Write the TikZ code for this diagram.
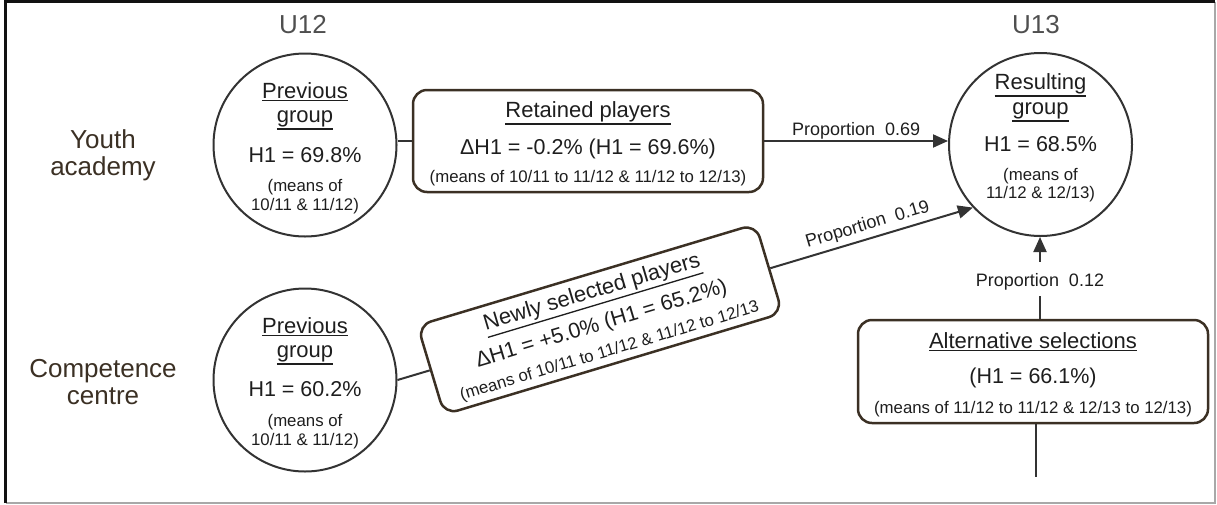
\documentclass[tikz,border=0pt]{standalone}
\usepackage{fontspec}
\setmainfont{Liberation Sans}
\usetikzlibrary{arrows.meta}

\definecolor{ink}{HTML}{1E1E1E}
\definecolor{sidebrown}{HTML}{3B3024}
\definecolor{agegrey}{HTML}{4F4F4F}
\definecolor{cardline}{HTML}{3B3024}
\definecolor{ringline}{HTML}{333333}
\definecolor{framedark}{HTML}{111111}
\definecolor{framelight}{HTML}{A8A8A8}

\newcommand\szBig{\fontsize{26}{27}\selectfont}
\newcommand\szTitle{\fontsize{22}{24}\selectfont}
\newcommand\szValue{\fontsize{21.5}{24}\selectfont}
\newcommand\szNote{\fontsize{16.8}{19}\selectfont}
\newcommand\szNoteWide{\fontsize{16.8}{27}\selectfont}
\newcommand\szProp{\fontsize{18}{20}\selectfont}
% underline drawn as a rule just below the text's depth
\newcommand\undl[1]{\leavevmode\setbox0=\hbox{#1}\rlap{\vrule width\wd0 height\dimexpr-\dp0-1.9pt\relax depth\dimexpr\dp0+3.2pt\relax}\box0}

\begin{document}
\begin{tikzpicture}[x=1pt,y=-1pt,
  side/.style={anchor=base, font=\szBig, text=sidebrown, inner sep=0pt},
  age/.style={anchor=base, font=\szBig, text=agegrey, inner sep=0pt},
  grp/.style={circle, draw=ringline, line width=2pt, minimum size=183pt, inner sep=0pt},
  card/.style={draw=cardline, line width=2.5pt, rounded corners=14pt, fill=white, inner sep=0pt},
  ttl/.style={anchor=base, font=\szTitle, text=ink, inner sep=0pt},
  val/.style={anchor=base, font=\szValue, text=ink, inner sep=0pt},
  note/.style={anchor=base, font=\szNote, text=ink, inner sep=0pt},
  prop/.style={font=\szProp, text=ink, inner sep=1pt},
  link/.style={draw=ringline, line width=2pt},
  arr/.style={link, -{Triangle[length=15pt,width=13pt]}}]

\useasboundingbox (0,0) rectangle (1217,504);

% frame
\draw[framelight, line width=2pt] (1214.5,1.5) -- (1214.5,502.5) -- (5.5,502.5);
\draw[framedark, line width=2.2pt] (5.5,503) -- (5.5,1.5) -- (1214.5,1.5);

% row and column headings
\node[side] (ya1) at (103,148) {Youth};
\node[side] (ya2) at (103,175) {academy};
\node[side] (cc1) at (103,377) {Competence};
\node[side] (cc2) at (103,404) {centre};
\node[age] (u12) at (303,33) {U12};
\node[age] (u13) at (1036,33) {U13};

% youth academy, previous group
\node[grp] (ya) at (305,145) {};
\node[ttl] (ya-a) at (305,98) {\undl{Previous}};
\node[ttl] (ya-b) at (305,122) {\undl{group}};
\node[val] (ya-c) at (305,162) {H1 = 69.8\%};
\node[note] (ya-d) at (305,191) {(means of};
\node[note] (ya-e) at (305,210) {10/11 \& 11/12)};

% competence centre, previous group
\node[grp] (ll) at (305,380) {};
\node[ttl] (ll-a) at (305,333) {\undl{Previous}};
\node[ttl] (ll-b) at (305,357) {\undl{group}};
\node[val] (ll-c) at (305,396) {H1 = 60.2\%};
\node[note] (ll-d) at (305,426) {(means of};
\node[note] (ll-e) at (305,445) {10/11 \& 11/12)};

% resulting U13 group
\node[grp] (res) at (1040.5,144.5) {};
\node[ttl] (res-a) at (1040.5,89) {\undl{Resulting}};
\node[ttl] (res-b) at (1040.5,114) {\undl{group}};
\node[val] (res-c) at (1040.5,151) {H1 = 68.5\%};
\node[note] (res-d) at (1040.5,180) {(means of};
\node[note] (res-e) at (1040.5,198) {11/12 \& 12/13)};

% retained players
\node[card, minimum width=350pt, minimum height=102pt] (rp) at (588,141) {};
\node[ttl] (rp-a) at (588,117) {\undl{Retained players}};
\node[val] (rp-b) at (588,154) {ΔH1 = -0.2\% (H1 = 69.6\%)};
\node[note] (rp-c) at (588,182) {(means of 10/11 to 11/12 \& 11/12 to 12/13)};

% newly selected players (tilted card, text set as one block)
\begin{scope}[shift={(600,319.3)}, rotate=16.7, transform shape]
  \node[card, minimum width=353pt, minimum height=93pt] (nb) at (0,0) {};
  \node[font=\szNoteWide, align=center, text=ink, inner sep=0pt] (nb-t) at (0,1.75)
    {{\szTitle\undl{Newly selected players}}\\[6pt]
     {\szValue ΔH1 = +5.0\% (H1 = 65.2\%)}\\
     (means of 10/11 to 11/12 \& 11/12 to 12/13};
\end{scope}

% alternative selections
\node[card, minimum width=350pt, minimum height=103pt] (alt) at (1033,371.5) {};
\node[ttl] (alt-a) at (1033,348) {\undl{Alternative selections}};
\node[val] (alt-b) at (1033,383) {(H1 = 66.1\%)};
\node[note] (alt-c) at (1033,413) {(means of 11/12 to 11/12 \& 12/13 to 12/13)};

% flows into the U13 group
\draw[link] (ya.east |- rp.west) -- (rp.west);
\draw[arr] (rp.east) -- node[prop, above] (p69) {Proportion~~0.69} (rp.east -| res.west);

\draw[link] (ll.east) -- (nb.west);
\draw[arr] (nb.east) -- node[prop, sloped, above=3pt] (p19) {Proportion~~0.19} (res.223);

\node[prop, anchor=base] (p12) at (1040,286) {Proportion~~0.12};
\draw[link] (alt.north -| p12) -- ([yshift=-5pt]p12.south);
\draw[arr] ([yshift=10pt]p12.north) -- (p12.north |- res.south);

\coordinate (tail) at (1036,477);
\draw[link] (alt.south -| tail) -- (tail);
\end{tikzpicture}
\end{document}
